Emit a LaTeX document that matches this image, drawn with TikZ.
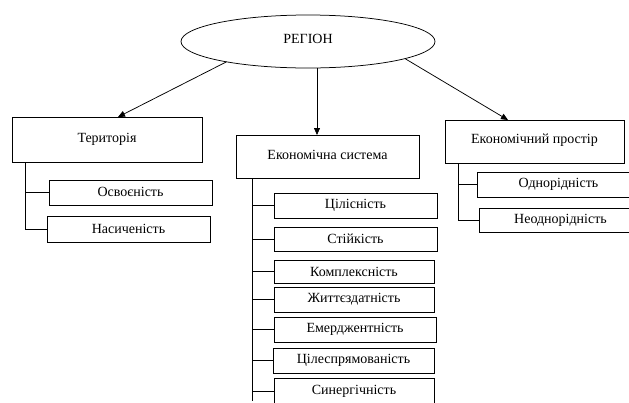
\documentclass[tikz,border=0pt]{standalone}
\usepackage{fontspec}
\setmainfont{Liberation Serif}
\usetikzlibrary{arrows.meta,shapes.geometric}
\begin{document}
\begin{tikzpicture}[x=1pt,y=-1pt,
  every node/.style={font=\fontsize{14}{16}\selectfont},
  ln/.style={line width=0.75pt, draw=black},
  box/.style={ln, rectangle, inner sep=0pt, outer sep=0pt, anchor=north west},
  sub/.style={box, minimum width=163pt, minimum height=25pt},
  arr/.style={ln, -{Triangle[length=7pt,width=6pt]}}]
\path[use as bounding box, clip] (0,0) rectangle (629,402);
\fill[white] (0,0) rectangle (629,402);
% top
\node[ln, ellipse, inner sep=0pt, outer sep=0pt, minimum width=254pt, minimum height=53pt] (reg) at (308,41.5) {\raisebox{6pt}{РЕГІОН}};
% main boxes
\node[box, minimum width=190pt, minimum height=45pt] (ter) at (12,117) {\raisebox{2pt}{Територія}};
\node[box, minimum width=183pt, minimum height=43pt] (eco) at (236,135) {\raisebox{4pt}{Економічна система}};
\node[box, minimum width=179pt, minimum height=43pt] (pro) at (445,120) {\raisebox{5pt}{Економічний простір}};
% left subs
\node[sub] (osv) at (49,180) {\raisebox{1pt}{Освоєність}};
\node[sub, minimum height=26pt] (nas) at (47,216) {Насиченість};
% middle subs
\node[sub] (cil) at (274,193) {\raisebox{2pt}{Цілісність}};
\node[sub, minimum height=24pt] (sti) at (274,227) {Стійкість};
\node[sub, minimum width=160pt, minimum height=23pt] (kom) at (274,260) {Комплексність};
\node[sub, minimum width=160pt] (zhy) at (274,287) {Життєздатність};
\node[sub, minimum width=162pt] (eme) at (274,317) {Емерджентність};
\node[sub, minimum width=161pt] (cls) at (273,348) {Цілеспрямованість};
\node[sub, minimum width=160pt, minimum height=27pt] (syn) at (274,378) {Синергічність};
% right subs
\node[sub] (odn) at (477,172) {\raisebox{2pt}{Однорідність}};
\node[sub, minimum height=24pt] (neo) at (479,208) {Неоднорідність};
% arrows
\draw[arr] (reg.194) -- ([xshift=11pt]ter.north);
\draw[arr] ([xshift=9pt]reg.south) -- ([xshift=-10.5pt]eco.north);
\draw[arr] (reg.350) -- ([xshift=-26.5pt]pro.north);
% left tree
\coordinate (tl) at ([xshift=13pt]ter.south west);
\draw[ln] (tl) |- (nas.west);
\draw[ln] (osv.west) -- (osv.west -| tl);
% middle tree
\coordinate (el) at ([xshift=16pt]eco.south west);
\coordinate (eb) at (252,401);
\draw[ln] (el) -- (eb);
\foreach \n in {cil,sti,kom,zhy,eme,cls,syn}
  \draw[ln] (\n.west) -- (\n.west -| el);
% right tree
\coordinate (pl) at ([xshift=13pt]pro.south west);
\draw[ln] (pl) |- (neo.west);
\draw[ln] (odn.west) -- (odn.west -| pl);
\end{tikzpicture}
\end{document}
